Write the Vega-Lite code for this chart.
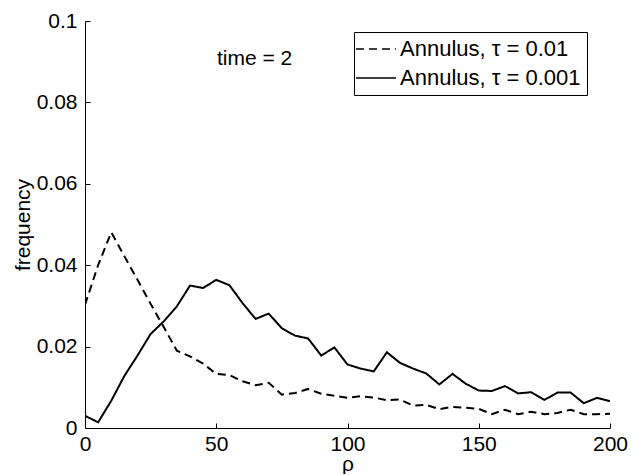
{
  "$schema": "https://vega.github.io/schema/vega-lite/v6.json",
  "autosize": {"type": "none"},
  "padding": {"left": 85, "top": 21, "right": 20, "bottom": 46},
  "width": 525,
  "height": 407,
  "background": "white",
  "config": {
    "font": "Liberation Sans",
    "view": {"stroke": null},
    "axis": {
      "grid": false,
      "domainColor": "black",
      "domainWidth": 1,
      "ticks": true,
      "tickColor": "black",
      "tickWidth": 1,
      "tickSize": -5,
      "labelColor": "black",
      "labelFontSize": 21,
      "labelFont": "Liberation Sans",
      "labelFlush": false,
      "labelBound": false,
      "labelOverlap": false,
      "titleFont": "Liberation Sans",
      "titleFontSize": 21,
      "titleFontWeight": "normal",
      "titleColor": "black"
    }
  },
  "datasets": {
    "curves": [
      {"rho": 0, "freq": 0.0303, "series": "Annulus, τ = 0.01"},
      {"rho": 5, "freq": 0.0400, "series": "Annulus, τ = 0.01"},
      {"rho": 10, "freq": 0.0481, "series": "Annulus, τ = 0.01"},
      {"rho": 15, "freq": 0.0422, "series": "Annulus, τ = 0.01"},
      {"rho": 20, "freq": 0.0364, "series": "Annulus, τ = 0.01"},
      {"rho": 25, "freq": 0.0305, "series": "Annulus, τ = 0.01"},
      {"rho": 30, "freq": 0.0248, "series": "Annulus, τ = 0.01"},
      {"rho": 35, "freq": 0.0190, "series": "Annulus, τ = 0.01"},
      {"rho": 40, "freq": 0.0176, "series": "Annulus, τ = 0.01"},
      {"rho": 45, "freq": 0.0158, "series": "Annulus, τ = 0.01"},
      {"rho": 50, "freq": 0.0133, "series": "Annulus, τ = 0.01"},
      {"rho": 55, "freq": 0.0130, "series": "Annulus, τ = 0.01"},
      {"rho": 60, "freq": 0.0115, "series": "Annulus, τ = 0.01"},
      {"rho": 65, "freq": 0.0105, "series": "Annulus, τ = 0.01"},
      {"rho": 70, "freq": 0.0111, "series": "Annulus, τ = 0.01"},
      {"rho": 75, "freq": 0.0082, "series": "Annulus, τ = 0.01"},
      {"rho": 80, "freq": 0.0086, "series": "Annulus, τ = 0.01"},
      {"rho": 85, "freq": 0.0096, "series": "Annulus, τ = 0.01"},
      {"rho": 90, "freq": 0.0084, "series": "Annulus, τ = 0.01"},
      {"rho": 95, "freq": 0.0079, "series": "Annulus, τ = 0.01"},
      {"rho": 100, "freq": 0.0074, "series": "Annulus, τ = 0.01"},
      {"rho": 105, "freq": 0.0078, "series": "Annulus, τ = 0.01"},
      {"rho": 110, "freq": 0.0075, "series": "Annulus, τ = 0.01"},
      {"rho": 115, "freq": 0.0068, "series": "Annulus, τ = 0.01"},
      {"rho": 120, "freq": 0.0070, "series": "Annulus, τ = 0.01"},
      {"rho": 125, "freq": 0.0055, "series": "Annulus, τ = 0.01"},
      {"rho": 130, "freq": 0.0057, "series": "Annulus, τ = 0.01"},
      {"rho": 135, "freq": 0.0046, "series": "Annulus, τ = 0.01"},
      {"rho": 140, "freq": 0.0052, "series": "Annulus, τ = 0.01"},
      {"rho": 145, "freq": 0.0050, "series": "Annulus, τ = 0.01"},
      {"rho": 150, "freq": 0.0047, "series": "Annulus, τ = 0.01"},
      {"rho": 155, "freq": 0.0034, "series": "Annulus, τ = 0.01"},
      {"rho": 160, "freq": 0.0045, "series": "Annulus, τ = 0.01"},
      {"rho": 165, "freq": 0.0034, "series": "Annulus, τ = 0.01"},
      {"rho": 170, "freq": 0.0040, "series": "Annulus, τ = 0.01"},
      {"rho": 175, "freq": 0.0034, "series": "Annulus, τ = 0.01"},
      {"rho": 180, "freq": 0.0037, "series": "Annulus, τ = 0.01"},
      {"rho": 185, "freq": 0.0045, "series": "Annulus, τ = 0.01"},
      {"rho": 190, "freq": 0.0034, "series": "Annulus, τ = 0.01"},
      {"rho": 195, "freq": 0.0034, "series": "Annulus, τ = 0.01"},
      {"rho": 200, "freq": 0.0035, "series": "Annulus, τ = 0.01"},
      {"rho": 0, "freq": 0.0030, "series": "Annulus, τ = 0.001"},
      {"rho": 5, "freq": 0.0014, "series": "Annulus, τ = 0.001"},
      {"rho": 10, "freq": 0.0067, "series": "Annulus, τ = 0.001"},
      {"rho": 15, "freq": 0.0128, "series": "Annulus, τ = 0.001"},
      {"rho": 20, "freq": 0.0178, "series": "Annulus, τ = 0.001"},
      {"rho": 25, "freq": 0.0231, "series": "Annulus, τ = 0.001"},
      {"rho": 30, "freq": 0.0262, "series": "Annulus, τ = 0.001"},
      {"rho": 35, "freq": 0.0299, "series": "Annulus, τ = 0.001"},
      {"rho": 40, "freq": 0.0350, "series": "Annulus, τ = 0.001"},
      {"rho": 45, "freq": 0.0344, "series": "Annulus, τ = 0.001"},
      {"rho": 50, "freq": 0.0364, "series": "Annulus, τ = 0.001"},
      {"rho": 55, "freq": 0.0351, "series": "Annulus, τ = 0.001"},
      {"rho": 60, "freq": 0.0307, "series": "Annulus, τ = 0.001"},
      {"rho": 65, "freq": 0.0268, "series": "Annulus, τ = 0.001"},
      {"rho": 70, "freq": 0.0281, "series": "Annulus, τ = 0.001"},
      {"rho": 75, "freq": 0.0245, "series": "Annulus, τ = 0.001"},
      {"rho": 80, "freq": 0.0227, "series": "Annulus, τ = 0.001"},
      {"rho": 85, "freq": 0.0220, "series": "Annulus, τ = 0.001"},
      {"rho": 90, "freq": 0.0178, "series": "Annulus, τ = 0.001"},
      {"rho": 95, "freq": 0.0198, "series": "Annulus, τ = 0.001"},
      {"rho": 100, "freq": 0.0156, "series": "Annulus, τ = 0.001"},
      {"rho": 105, "freq": 0.0146, "series": "Annulus, τ = 0.001"},
      {"rho": 110, "freq": 0.0139, "series": "Annulus, τ = 0.001"},
      {"rho": 115, "freq": 0.0186, "series": "Annulus, τ = 0.001"},
      {"rho": 120, "freq": 0.0160, "series": "Annulus, τ = 0.001"},
      {"rho": 125, "freq": 0.0146, "series": "Annulus, τ = 0.001"},
      {"rho": 130, "freq": 0.0134, "series": "Annulus, τ = 0.001"},
      {"rho": 135, "freq": 0.0107, "series": "Annulus, τ = 0.001"},
      {"rho": 140, "freq": 0.0133, "series": "Annulus, τ = 0.001"},
      {"rho": 145, "freq": 0.0109, "series": "Annulus, τ = 0.001"},
      {"rho": 150, "freq": 0.0092, "series": "Annulus, τ = 0.001"},
      {"rho": 155, "freq": 0.0091, "series": "Annulus, τ = 0.001"},
      {"rho": 160, "freq": 0.0103, "series": "Annulus, τ = 0.001"},
      {"rho": 165, "freq": 0.0085, "series": "Annulus, τ = 0.001"},
      {"rho": 170, "freq": 0.0088, "series": "Annulus, τ = 0.001"},
      {"rho": 175, "freq": 0.0069, "series": "Annulus, τ = 0.001"},
      {"rho": 180, "freq": 0.0087, "series": "Annulus, τ = 0.001"},
      {"rho": 185, "freq": 0.0087, "series": "Annulus, τ = 0.001"},
      {"rho": 190, "freq": 0.0061, "series": "Annulus, τ = 0.001"},
      {"rho": 195, "freq": 0.0074, "series": "Annulus, τ = 0.001"},
      {"rho": 200, "freq": 0.0066, "series": "Annulus, τ = 0.001"}
    ],
    "notes": [
      {"rho": 64.6, "freq": 0.0906, "label": "time = 2"}
    ]
  },
  "layer": [
    {
      "data": {"name": "curves"},
      "mark": {"type": "line", "color": "black", "strokeWidth": 2, "clip": true},
      "encoding": {
        "x": {
          "field": "rho",
          "type": "quantitative",
          "scale": {"domain": [0, 200], "nice": false, "zero": false},
          "axis": {
            "title": "ρ",
            "values": [0, 50, 100, 150, 200],
            "labelPadding": 10,
            "titleBaseline": "alphabetic",
            "titleY": 42
          }
        },
        "y": {
          "field": "freq",
          "type": "quantitative",
          "scale": {"domain": [0, 0.1], "nice": false},
          "axis": {
            "title": "frequency",
            "values": [0, 0.02, 0.04, 0.06, 0.08, 0.1],
            "format": ".2~f",
            "labelPadding": 13,
            "titleX": -52
          }
        },
        "strokeDash": {
          "field": "series",
          "type": "nominal",
          "scale": {
            "domain": ["Annulus, τ = 0.01", "Annulus, τ = 0.001"],
            "range": [[8, 5], [1, 0]]
          },
          "legend": {
            "title": null,
            "orient": "none",
            "legendX": 269,
            "legendY": 11,
            "fillColor": "white",
            "strokeColor": "black",
            "cornerRadius": 0,
            "padding": 6,
            "rowPadding": 7,
            "symbolType": "M-2,0H2",
            "symbolSize": 400,
            "symbolStrokeWidth": 1.5,
            "symbolStrokeColor": "black",
            "symbolOffset": 5,
            "labelOffset": 13,
            "labelFontSize": 22,
            "labelFont": "Liberation Sans",
            "labelColor": "black",
            "labelLimit": 400
          }
        }
      }
    },
    {
      "data": {"name": "notes"},
      "mark": {"type": "text", "fontSize": 21, "font": "Liberation Sans", "color": "black", "align": "center", "baseline": "middle"},
      "encoding": {
        "x": {"field": "rho", "type": "quantitative"},
        "y": {"field": "freq", "type": "quantitative"},
        "text": {"field": "label"}
      }
    }
  ]
}
